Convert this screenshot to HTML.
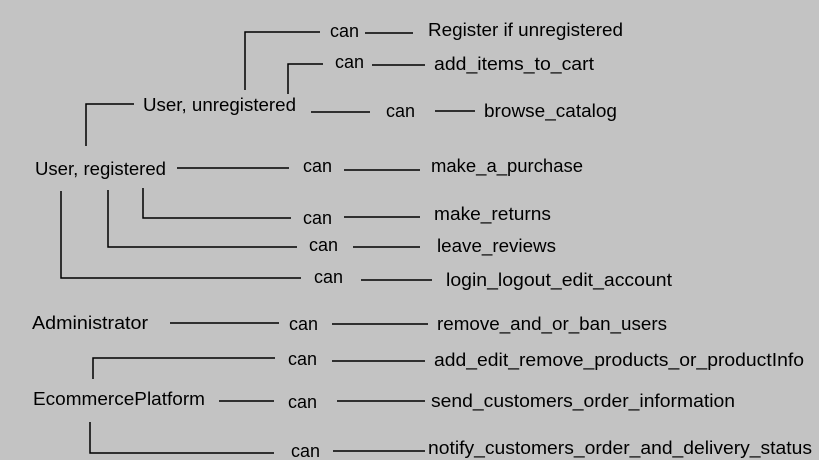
<!DOCTYPE html>
<html><head><meta charset="utf-8"><style>
html,body{margin:0;padding:0;background:#c3c3c3;}
svg{display:block;}
text{font-family:"Liberation Sans",sans-serif;font-size:18px;fill:#000;}
</style></head><body>
<svg width="819" height="460" xmlns="http://www.w3.org/2000/svg">
<rect width="819" height="460" fill="#c3c3c3"/>
<g stroke="#000" stroke-width="1.5" fill="none">
<polyline points="245,90 245,32 320,32"/>
<line x1="365" y1="33" x2="413" y2="33"/>
<polyline points="288,94 288,64 323,64"/>
<line x1="372" y1="65" x2="425" y2="65"/>
<polyline points="86,146 86,104 134,104"/>
<line x1="311" y1="112" x2="370" y2="112"/>
<line x1="435" y1="111" x2="475" y2="111"/>
<line x1="177" y1="168" x2="289" y2="168"/>
<line x1="344" y1="170" x2="420" y2="170"/>
<polyline points="143,188 143,218 291,218"/>
<line x1="344" y1="217" x2="420" y2="217"/>
<polyline points="108,190 108,247 297,247"/>
<line x1="353" y1="247" x2="420" y2="247"/>
<polyline points="61,191 61,278 301,278"/>
<line x1="361" y1="280" x2="432" y2="280"/>
<line x1="170" y1="323" x2="279" y2="323"/>
<line x1="332" y1="324" x2="428" y2="324"/>
<polyline points="93,379 93,358 275,358"/>
<line x1="332" y1="361" x2="425" y2="361"/>
<line x1="219" y1="401" x2="274" y2="401"/>
<line x1="337" y1="401" x2="425" y2="401"/>
<polyline points="90,422 90,453 274,453"/>
<line x1="333" y1="451" x2="425" y2="451"/>
</g>
<text x="35" y="175" textLength="131" lengthAdjust="spacingAndGlyphs">User, registered</text>
<text x="143" y="111" textLength="153" lengthAdjust="spacingAndGlyphs">User, unregistered</text>
<text x="32" y="329" textLength="116" lengthAdjust="spacingAndGlyphs">Administrator</text>
<text x="33" y="405" textLength="172" lengthAdjust="spacingAndGlyphs">EcommercePlatform</text>
<g>
<text x="330" y="37" textLength="29" lengthAdjust="spacingAndGlyphs">can</text>
<text x="335" y="68" textLength="29" lengthAdjust="spacingAndGlyphs">can</text>
<text x="386" y="117" textLength="29" lengthAdjust="spacingAndGlyphs">can</text>
<text x="303" y="172" textLength="29" lengthAdjust="spacingAndGlyphs">can</text>
<text x="303" y="224" textLength="29" lengthAdjust="spacingAndGlyphs">can</text>
<text x="309" y="251" textLength="29" lengthAdjust="spacingAndGlyphs">can</text>
<text x="314" y="283" textLength="29" lengthAdjust="spacingAndGlyphs">can</text>
<text x="289" y="330" textLength="29" lengthAdjust="spacingAndGlyphs">can</text>
<text x="288" y="365" textLength="29" lengthAdjust="spacingAndGlyphs">can</text>
<text x="288" y="408" textLength="29" lengthAdjust="spacingAndGlyphs">can</text>
<text x="291" y="457" textLength="29" lengthAdjust="spacingAndGlyphs">can</text>
</g>
<text x="428" y="36" textLength="195" lengthAdjust="spacingAndGlyphs">Register if unregistered</text>
<text x="434" y="70" textLength="160" lengthAdjust="spacingAndGlyphs">add_items_to_cart</text>
<text x="484" y="117" textLength="133" lengthAdjust="spacingAndGlyphs">browse_catalog</text>
<text x="431" y="172" textLength="152" lengthAdjust="spacingAndGlyphs">make_a_purchase</text>
<text x="434" y="220" textLength="117" lengthAdjust="spacingAndGlyphs">make_returns</text>
<text x="437" y="252" textLength="119" lengthAdjust="spacingAndGlyphs">leave_reviews</text>
<text x="446" y="286" textLength="226" lengthAdjust="spacingAndGlyphs">login_logout_edit_account</text>
<text x="437" y="330" textLength="230" lengthAdjust="spacingAndGlyphs">remove_and_or_ban_users</text>
<text x="434" y="366" textLength="370" lengthAdjust="spacingAndGlyphs">add_edit_remove_products_or_productInfo</text>
<text x="431" y="407" textLength="304" lengthAdjust="spacingAndGlyphs">send_customers_order_information</text>
<text x="428" y="454" textLength="384" lengthAdjust="spacingAndGlyphs">notify_customers_order_and_delivery_status</text>
</svg>
</body></html>
